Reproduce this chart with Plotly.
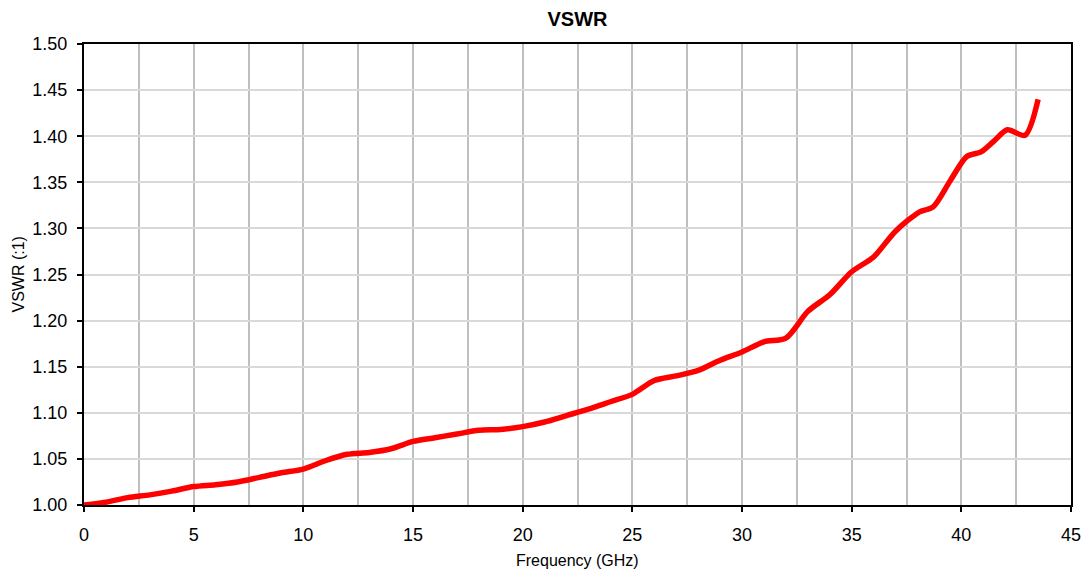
import plotly.graph_objects as go

freq_ghz = [0, 1, 2, 3, 4, 5, 6, 7, 8, 9, 10, 11, 12, 13, 14, 15, 16, 17, 18, 19,
            20, 21, 22, 23, 24, 25, 26, 27, 28, 29, 30, 31, 32, 33, 34, 35, 36, 37,
            38.1, 38.7, 39.5, 40.25, 40.9, 41.5, 42.1, 42.9, 43.5]
vswr = [1.000, 1.003, 1.008, 1.011, 1.015, 1.020, 1.022, 1.025, 1.030, 1.035,
        1.039, 1.048, 1.055, 1.057, 1.061, 1.069, 1.073, 1.077, 1.081, 1.082,
        1.085, 1.090, 1.097, 1.104, 1.112, 1.120, 1.135, 1.140, 1.146, 1.157,
        1.166, 1.177, 1.181, 1.210, 1.228, 1.253, 1.269, 1.297, 1.318, 1.323,
        1.352, 1.378, 1.383, 1.395, 1.407, 1.401, 1.440]

x_ticks = [0, 5, 10, 15, 20, 25, 30, 35, 40, 45]
y_ticks = [1.00, 1.05, 1.10, 1.15, 1.20, 1.25, 1.30, 1.35, 1.40, 1.45, 1.50]

FONT = "Liberation Sans, Arial, sans-serif"
W, H = 1087, 571
L, R, T, B = 84, 16, 44, 66

fig = go.Figure()
fig.add_trace(go.Scatter(
    x=freq_ghz, y=vswr, mode="lines",
    line=dict(color="#FF0000", width=5.5, shape="spline", smoothing=0.8),
    showlegend=False, cliponaxis=False,
))

fig.update_layout(
    width=W, height=H,
    margin=dict(l=L, r=R, t=T, b=B, autoexpand=False),
    paper_bgcolor="white", plot_bgcolor="white",
    font=dict(family=FONT, color="black"),
    title=dict(text="<b>VSWR</b>", x=(L + (W - L - R) / 2) / W, xanchor="center",
               xref="container", yref="container",
               y=1 - 18.5 / H, yanchor="middle",
               font=dict(size=20, family=FONT, color="black")),
    annotations=[
        dict(text="Frequency (GHz)", xref="paper", yref="paper", x=0.5, y=0,
             xanchor="center", yanchor="middle", yshift=-55, showarrow=False,
             font=dict(size=16, family=FONT, color="black")),
        dict(text="VSWR (:1)", xref="paper", yref="paper", x=0, y=0.5,
             xanchor="center", yanchor="middle", xshift=-66, textangle=-90,
             showarrow=False, font=dict(size=16, family=FONT, color="black")),
    ],
)
fig.update_xaxes(
    range=[0, 45], tickvals=x_ticks, ticktext=[str(v) for v in x_ticks],
    automargin=False,
    showline=True, linecolor="black", linewidth=2, mirror=True,
    ticks="outside", ticklen=5, tickwidth=2, tickcolor="black",
    ticklabelstandoff=7,
    showgrid=True, gridcolor="#BFBFBF", gridwidth=2,
    minor=dict(dtick=2.5, tick0=0, showgrid=True, gridcolor="#BFBFBF", gridwidth=2, ticks=""),
    tickfont=dict(size=18, family=FONT, color="black"),
    zeroline=False,
)
fig.update_yaxes(
    range=[1.0, 1.5], tickvals=y_ticks, ticktext=[f"{v:.2f}" for v in y_ticks],
    automargin=False,
    showline=True, linecolor="black", linewidth=2, mirror=True,
    ticks="outside", ticklen=5, tickwidth=2, tickcolor="black",
    ticklabelstandoff=6,
    showgrid=True, gridcolor="#D9D9D9", gridwidth=1.5,
    tickfont=dict(size=18, family=FONT, color="black"),
    zeroline=False,
)

fig.write_html(
    "out.html",
    config={"displayModeBar": False},
    post_script="document.body.style.margin='0';document.body.style.overflow='hidden';",
)
